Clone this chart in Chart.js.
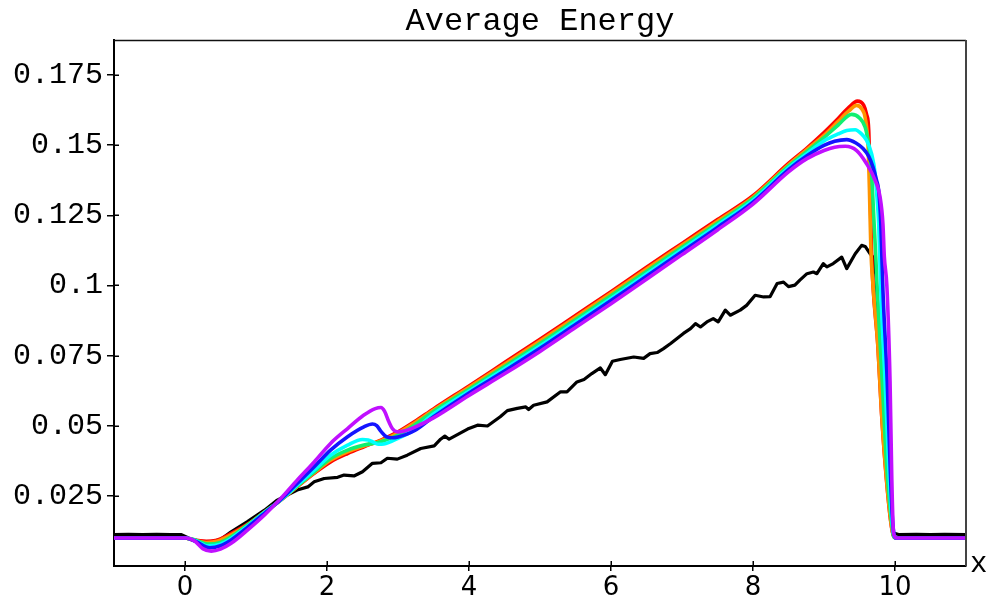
<!DOCTYPE html>
<html>
<head>
<meta charset="utf-8">
<title>Average Energy</title>
<script src="https://cdn.jsdelivr.net/npm/chart.js@4/dist/chart.umd.min.js"></script>
<style>
  html, body { margin: 0; padding: 0; background: #ffffff; }
  #plot { display: block; }
</style>
</head>
<body>
<canvas id="plot" width="993" height="603"></canvas>
<script>
// Axis ticks
const xTicks = [0, 2, 4, 6, 8, 10];
const yTicks = [0.025, 0.05, 0.075, 0.1, 0.125, 0.15, 0.175];
const yTickLabels = ['0.025', '0.05', '0.075', '0.1', '0.125', '0.15', '0.175'];

// Reference (particle) profile
const blackX = [-1.0, -0.8, -0.6, -0.4, -0.2, -0.05, 0.05, 0.2, 0.35, 0.5, 0.65, 0.88, 1.12, 1.30, 1.44, 1.58, 1.73, 1.82, 1.96, 2.15, 2.24, 2.38, 2.50, 2.64, 2.76, 2.85, 2.99, 3.13, 3.32, 3.51, 3.60, 3.66, 3.72, 3.85, 3.98, 4.12, 4.26, 4.44, 4.54, 4.68, 4.80, 4.84, 4.91, 5.10, 5.29, 5.38, 5.52, 5.62, 5.73, 5.85, 5.92, 6.02, 6.13, 6.32, 6.46, 6.55, 6.65, 6.74, 6.84, 6.93, 7.02, 7.12, 7.19, 7.26, 7.35, 7.44, 7.51, 7.61, 7.68, 7.82, 7.91, 8.03, 8.15, 8.24, 8.34, 8.43, 8.50, 8.59, 8.66, 8.76, 8.85, 8.90, 8.99, 9.04, 9.13, 9.25, 9.32, 9.44, 9.53, 9.58, 9.65, 9.69, 9.73, 9.77, 9.81, 9.87, 9.93, 9.98, 10.05, 10.3, 10.5, 10.7, 11.0];
const blackY = [0.0112, 0.0113, 0.0112, 0.0113, 0.0112, 0.0112, 0.0100, 0.0088, 0.0086, 0.0094, 0.0122, 0.0158, 0.0199, 0.0235, 0.0253, 0.0271, 0.0282, 0.0300, 0.0312, 0.0316, 0.0324, 0.0321, 0.0336, 0.0366, 0.0368, 0.0384, 0.0381, 0.0395, 0.0419, 0.0428, 0.0452, 0.0463, 0.0452, 0.0470, 0.0488, 0.0502, 0.0499, 0.0532, 0.0554, 0.0562, 0.0567, 0.0558, 0.0573, 0.0585, 0.0621, 0.0621, 0.0656, 0.0665, 0.0686, 0.0706, 0.0682, 0.0730, 0.0736, 0.0745, 0.0740, 0.0757, 0.0761, 0.0775, 0.0793, 0.0811, 0.0829, 0.0846, 0.0864, 0.0852, 0.0870, 0.0882, 0.0870, 0.0912, 0.0894, 0.0912, 0.0929, 0.0965, 0.0959, 0.0960, 0.1007, 0.1012, 0.0996, 0.1001, 0.1019, 0.1042, 0.1048, 0.1042, 0.1078, 0.1066, 0.1078, 0.1101, 0.1060, 0.1113, 0.1143, 0.1139, 0.1113, 0.1101, 0.1040, 0.0880, 0.0640, 0.0360, 0.0185, 0.0118, 0.0112, 0.0113, 0.0112, 0.0113, 0.0112];

// Model profiles
const redX = [-1, 0, 0.1, 0.3, 0.45, 0.65, 0.9, 1.12, 1.35, 1.58, 1.82, 2.05, 2.29, 2.52, 2.76, 3.0, 3.23, 3.5, 4.0, 4.5, 5.0, 5.5, 6.0, 6.5, 7.0, 7.5, 8.0, 8.5, 8.76, 9.0, 9.2, 9.35, 9.47, 9.56, 9.60, 9.63, 9.65, 9.67, 9.69, 9.76, 9.81, 9.88, 9.95, 9.99, 10.02, 11];
const redY = [0.0100, 0.0100, 0.0094, 0.0088, 0.0092, 0.0116, 0.0152, 0.0193, 0.0235, 0.0282, 0.0330, 0.0371, 0.0401, 0.0425, 0.0449, 0.0478, 0.0514, 0.0560, 0.0642, 0.0725, 0.0808, 0.0893, 0.0978, 0.1065, 0.1150, 0.1235, 0.1320, 0.1435, 0.1490, 0.1545, 0.1595, 0.1635, 0.1657, 0.1642, 0.1610, 0.1553, 0.1340, 0.1120, 0.1000, 0.0780, 0.0545, 0.0306, 0.0140, 0.0102, 0.0100, 0.0100];

const orangeX = [-1, 0, 0.1, 0.3, 0.45, 0.65, 0.9, 1.12, 1.35, 1.58, 1.82, 2.05, 2.29, 2.52, 2.76, 3.0, 3.23, 3.5, 4.0, 4.5, 5.0, 5.5, 6.0, 6.5, 7.0, 7.5, 8.0, 8.5, 8.76, 9.0, 9.2, 9.35, 9.46, 9.53, 9.58, 9.62, 9.64, 9.66, 9.69, 9.76, 9.81, 9.88, 9.95, 9.99, 10.02, 11];
const orangeY = [0.0100, 0.0100, 0.0093, 0.0084, 0.0088, 0.0111, 0.0150, 0.0192, 0.0235, 0.0283, 0.0333, 0.0377, 0.0407, 0.0428, 0.0447, 0.0474, 0.0510, 0.0556, 0.0637, 0.0719, 0.0802, 0.0887, 0.0972, 0.1059, 0.1144, 0.1229, 0.1315, 0.1430, 0.1485, 0.1535, 0.1585, 0.1622, 0.1642, 0.1630, 0.1598, 0.1500, 0.1340, 0.1130, 0.1000, 0.0780, 0.0548, 0.0310, 0.0142, 0.0102, 0.0100, 0.0100];

const greenX = [-1, 0, 0.15, 0.32, 0.5, 0.65, 0.88, 1.12, 1.35, 1.58, 1.82, 2.05, 2.29, 2.52, 2.76, 3.0, 3.23, 3.5, 4.0, 4.5, 5.0, 5.5, 6.0, 6.5, 7.0, 7.5, 8.0, 8.5, 8.76, 9.0, 9.2, 9.39, 9.5, 9.58, 9.63, 9.67, 9.71, 9.73, 9.75, 9.82, 9.88, 9.94, 9.98, 10.01, 11];
const greenY = [0.0100, 0.0100, 0.0092, 0.0078, 0.0084, 0.0104, 0.0146, 0.0192, 0.0236, 0.0285, 0.0336, 0.0383, 0.0413, 0.0431, 0.0443, 0.0467, 0.0502, 0.0551, 0.0630, 0.0711, 0.0793, 0.0878, 0.0963, 0.1050, 0.1136, 0.1222, 0.1310, 0.1425, 0.1478, 0.1527, 0.1572, 0.1610, 0.1597, 0.1564, 0.1500, 0.1398, 0.1200, 0.1101, 0.0983, 0.0660, 0.0366, 0.0185, 0.0106, 0.0100, 0.0100];

const cyanX = [-1, 0, 0.15, 0.32, 0.5, 0.65, 0.88, 1.12, 1.35, 1.58, 1.82, 2.05, 2.29, 2.50, 2.58, 2.64, 2.72, 2.80, 3.0, 3.23, 3.5, 4.0, 4.5, 5.0, 5.5, 6.0, 6.5, 7.0, 7.5, 8.0, 8.5, 8.76, 9.0, 9.2, 9.32, 9.44, 9.52, 9.6, 9.67, 9.72, 9.75, 9.77, 9.80, 9.86, 9.91, 9.95, 9.99, 10.01, 11];
const cyanY = [0.0100, 0.0100, 0.0090, 0.0072, 0.0078, 0.0098, 0.0142, 0.0191, 0.0236, 0.0288, 0.0342, 0.0395, 0.0431, 0.0451, 0.0449, 0.0443, 0.0434, 0.0435, 0.0455, 0.0486, 0.0542, 0.0623, 0.0703, 0.0784, 0.0869, 0.0954, 0.1041, 0.1128, 0.1215, 0.1303, 0.1419, 0.1470, 0.1515, 0.1540, 0.1552, 0.1555, 0.1542, 0.1517, 0.1470, 0.1398, 0.1300, 0.1220, 0.0983, 0.0660, 0.0366, 0.0185, 0.0105, 0.0100, 0.0100];

const blueX = [-1, 0, 0.15, 0.35, 0.5, 0.65, 0.88, 1.12, 1.35, 1.58, 1.82, 2.05, 2.29, 2.52, 2.64, 2.70, 2.76, 2.84, 2.92, 3.0, 3.23, 3.5, 4.0, 4.5, 5.0, 5.5, 6.0, 6.5, 7.0, 7.5, 8.0, 8.5, 8.76, 9.0, 9.15, 9.32, 9.45, 9.55, 9.63, 9.69, 9.74, 9.77, 9.80, 9.83, 9.89, 9.93, 9.96, 9.99, 10.01, 11];
const blueY = [0.0100, 0.0100, 0.0088, 0.0065, 0.0072, 0.0093, 0.0138, 0.0188, 0.0237, 0.0294, 0.0354, 0.0413, 0.0461, 0.0496, 0.0506, 0.0500, 0.0480, 0.0460, 0.0457, 0.0460, 0.0482, 0.0532, 0.0617, 0.0695, 0.0776, 0.0861, 0.0946, 0.1033, 0.1120, 0.1207, 0.1297, 0.1413, 0.1462, 0.1499, 0.1514, 0.1520, 0.1508, 0.1488, 0.1460, 0.1422, 0.1375, 0.1339, 0.1220, 0.0983, 0.0660, 0.0366, 0.0185, 0.0108, 0.0100, 0.0100];

const purpleX = [-1, 0.02, 0.13, 0.25, 0.37, 0.5, 0.65, 0.88, 1.12, 1.35, 1.58, 1.82, 2.05, 2.29, 2.52, 2.68, 2.76, 2.81, 2.87, 2.92, 2.99, 3.1, 3.23, 3.5, 4.0, 4.5, 5.0, 5.5, 6.0, 6.5, 7.0, 7.5, 8.0, 8.5, 8.76, 9.0, 9.15, 9.3, 9.46, 9.6, 9.72, 9.79, 9.83, 9.85, 9.885, 9.93, 9.955, 9.98, 10.02, 11];
const purpleY = [0.0100, 0.0100, 0.0090, 0.0062, 0.0053, 0.0060, 0.0081, 0.0128, 0.0182, 0.0241, 0.0306, 0.0371, 0.0437, 0.0490, 0.0538, 0.0561, 0.0565, 0.0552, 0.0515, 0.0490, 0.0478, 0.0482, 0.0494, 0.0528, 0.0608, 0.0685, 0.0765, 0.0850, 0.0935, 0.1022, 0.1110, 0.1198, 0.1290, 0.1405, 0.1452, 0.1481, 0.1493, 0.1496, 0.1481, 0.1434, 0.1375, 0.1315, 0.1220, 0.1101, 0.1000, 0.0660, 0.0310, 0.0116, 0.0100, 0.0100];

function pts(xs, ys) { return xs.map((x, i) => ({ x: x, y: ys[i] })); }

function curve(xs, ys, color, width, smooth) {
  return {
    data: pts(xs, ys),
    borderColor: color,
    borderWidth: width,
    pointRadius: 0,
    fill: false,
    cubicInterpolationMode: smooth ? 'monotone' : 'default',
    tension: 0,
    borderJoinStyle: 'round',
    borderCapStyle: 'round'
  };
}

// First dataset is painted last (on top)
const datasets = [
  curve(purpleX, purpleY, '#c010ff', 3.6, true),
  curve(blueX, blueY, '#1414ff', 3.6, true),
  curve(cyanX, cyanY, '#00ffff', 3.6, true),
  curve(greenX, greenY, '#10f070', 3.6, true),
  curve(orangeX, orangeY, '#ff9400', 3.6, true),
  curve(redX, redY, '#ff0000', 3.6, true),
  curve(blackX, blackY, '#000000', 3.2, false)
];

const monoFont = '"Courier New", "Nimbus Mono PS", "Liberation Mono", monospace';

const framePlugin = {
  id: 'frame',
  afterDraw(chart) {
    const { ctx, chartArea: a, scales } = chart;
    const xs = scales.x, ys = scales.y;
    ctx.save();
    // top and right border of the plot box
    ctx.strokeStyle = '#111';
    ctx.lineWidth = 1.5;
    ctx.beginPath();
    ctx.moveTo(a.left, a.top + 0.5);
    ctx.lineTo(a.right, a.top + 0.5);
    ctx.stroke();
    ctx.strokeStyle = '#444';
    ctx.lineWidth = 2;
    ctx.beginPath();
    ctx.moveTo(a.right, a.top);
    ctx.lineTo(a.right, a.bottom);
    ctx.stroke();
    // tick marks reaching into the plot
    ctx.strokeStyle = '#000';
    ctx.lineWidth = 1.5;
    ctx.beginPath();
    yTicks.forEach(v => {
      const py = Math.round(ys.getPixelForValue(v)) + 0.25;
      ctx.moveTo(a.left, py);
      ctx.lineTo(a.left + 5, py);
    });
    xTicks.forEach(v => {
      const px = Math.round(xs.getPixelForValue(v)) + 0.25;
      ctx.moveTo(px, a.bottom);
      ctx.lineTo(px, a.bottom - 5);
    });
    ctx.stroke();
    // title
    ctx.fillStyle = '#000';
    ctx.font = '32px ' + monoFont;
    ctx.textAlign = 'center';
    ctx.textBaseline = 'alphabetic';
    ctx.fillText('Average Energy', (a.left + a.right) / 2, 30);
    // axis name
    ctx.font = '29px ' + monoFont;
    ctx.textAlign = 'left';
    ctx.fillText('x', a.right + 4, a.bottom + 6);
    ctx.restore();
  }
};

new Chart(document.getElementById('plot'), {
  type: 'line',
  data: { datasets: datasets },
  options: {
    responsive: false,
    animation: false,
    parsing: true,
    layout: { padding: { top: 40, right: 27, left: 0, bottom: 0 } },
    plugins: { legend: { display: false }, tooltip: { enabled: false }, title: { display: false } },
    scales: {
      x: {
        type: 'linear',
        min: -1,
        max: 11,
        afterFit(scale) { scale.height = 37; },
        afterBuildTicks(scale) { scale.ticks = xTicks.map(v => ({ value: v })); },
        grid: { display: true, drawOnChartArea: false, drawTicks: true, tickLength: 5, color: '#000', lineWidth: 1.5 },
        border: { display: true, color: '#000', width: 2 },
        ticks: {
          color: '#000',
          padding: 2,
          maxRotation: 0,
          font: { family: '"DejaVu Sans", sans-serif', size: 26 },
          callback: v => String(v)
        }
      },
      y: {
        type: 'linear',
        min: 0,
        max: 0.1875,
        afterFit(scale) { scale.width = 114; },
        afterBuildTicks(scale) { scale.ticks = yTicks.map(v => ({ value: v })); },
        grid: { display: true, drawOnChartArea: false, drawTicks: true, tickLength: 7, color: '#000', lineWidth: 1.5 },
        border: { display: true, color: '#000', width: 2 },
        ticks: {
          color: '#000',
          padding: 4,
          font: { family: monoFont, size: 30 },
          callback: (v, i) => yTickLabels[i]
        }
      }
    }
  },
  plugins: [framePlugin]
});
</script>
</body>
</html>
